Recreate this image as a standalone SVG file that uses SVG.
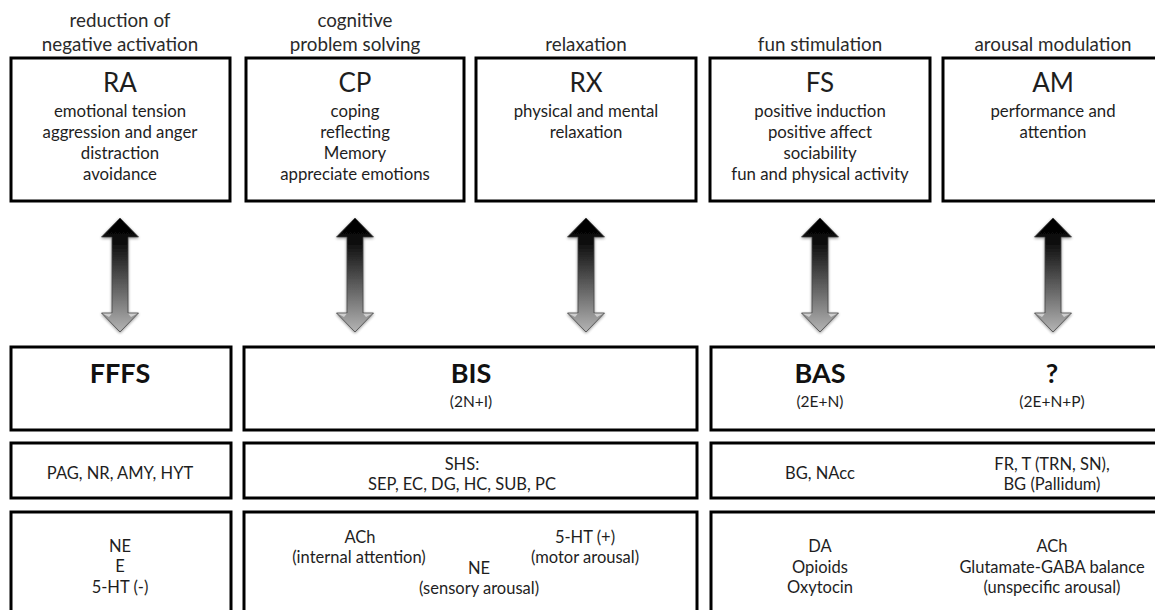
<svg xmlns="http://www.w3.org/2000/svg" width="1155" height="610" viewBox="0 0 1155 610">
<style>
  text { font-family: Lato, "Open Sans", "Liberation Sans", sans-serif; fill: #1e1e1e; text-anchor: middle; }
  .title { font-size: 18.8px; fill: #2a2a2a; }
  .code { font-size: 26px; }
  .body { font-size: 16.8px; }
  .sys { font-size: 27px; font-weight: bold; fill: #111; }
  .sub { font-size: 15.5px; }
  .small { font-size: 16.5px; }
  .box { fill: #fff; stroke: #000; stroke-width: 3; }
  .arrow { fill: url(#ag); stroke: #444; stroke-width: 0.8; filter: url(#sh); }
  .hl { fill: #fff; opacity: 0.55; }
</style>
<defs>
  <linearGradient id="ag" x1="0" y1="0" x2="0" y2="1">
    <stop offset="0" stop-color="#000"/>
    <stop offset="0.2" stop-color="#0a0a0a"/>
    <stop offset="1" stop-color="#b4b4b4"/>
  </linearGradient>
  <filter id="sh" x="-50%" y="-20%" width="200%" height="140%">
    <feGaussianBlur in="SourceAlpha" stdDeviation="1.5"/>
    <feOffset dx="0" dy="1" result="b"/>
    <feComponentTransfer><feFuncA type="linear" slope="0.45"/></feComponentTransfer>
    <feMerge><feMergeNode/><feMergeNode in="SourceGraphic"/></feMerge>
  </filter>
</defs>
<rect width="1155" height="610" fill="#fff"/>

<!-- top row -->
<g id="RA">
  <text class="title" x="120" y="27">reduction of</text>
  <text class="title" x="120" y="51">negative activation</text>
  <rect class="box" x="11" y="58" width="219" height="143"/>
  <text class="code" x="120" y="92">RA</text>
  <text class="body" x="120" y="117">emotional tension</text>
  <text class="body" x="120" y="138">aggression and anger</text>
  <text class="body" x="120" y="159">distraction</text>
  <text class="body" x="120" y="180">avoidance</text>
</g>
<g id="CP">
  <text class="title" x="355" y="27">cognitive</text>
  <text class="title" x="355" y="51">problem solving</text>
  <rect class="box" x="246" y="58" width="218" height="143"/>
  <text class="code" x="355" y="92">CP</text>
  <text class="body" x="355" y="117">coping</text>
  <text class="body" x="355" y="138">reflecting</text>
  <text class="body" x="355" y="159">Memory</text>
  <text class="body" x="355" y="180">appreciate emotions</text>
</g>
<g id="RX">
  <text class="title" x="586" y="51">relaxation</text>
  <rect class="box" x="476" y="58" width="220" height="143"/>
  <text class="code" x="586" y="92">RX</text>
  <text class="body" x="586" y="117">physical and mental</text>
  <text class="body" x="586" y="138">relaxation</text>
</g>
<g id="FS">
  <text class="title" x="820" y="51">fun stimulation</text>
  <rect class="box" x="710" y="58" width="220" height="143"/>
  <text class="code" x="820" y="92">FS</text>
  <text class="body" x="820" y="117">positive induction</text>
  <text class="body" x="820" y="138">positive affect</text>
  <text class="body" x="820" y="159">sociability</text>
  <text class="body" x="820" y="180">fun and physical activity</text>
</g>
<g id="AM">
  <text class="title" x="1053" y="51">arousal modulation</text>
  <rect class="box" x="943" y="58" width="230" height="143"/>
  <text class="code" x="1053" y="92">AM</text>
  <text class="body" x="1053" y="117">performance and</text>
  <text class="body" x="1053" y="138">attention</text>
</g>

<!-- connectors -->
<g id="connectors">
  <path class="arrow" d="M120,218 L138.5,237 L128,237 L128,313 L138.5,313 L120,332 L101.5,313 L112,313 L112,237 L101.5,237 Z"/>
  <path class="arrow" d="M355,218 L373.5,237 L363,237 L363,313 L373.5,313 L355,332 L336.5,313 L347,313 L347,237 L336.5,237 Z"/>
  <path class="arrow" d="M586,218 L604.5,237 L594,237 L594,313 L604.5,313 L586,332 L567.5,313 L578,313 L578,237 L567.5,237 Z"/>
  <path class="arrow" d="M820,218 L838.5,237 L828,237 L828,313 L838.5,313 L820,332 L801.5,313 L812,313 L812,237 L801.5,237 Z"/>
  <path class="arrow" d="M1053,218 L1071.5,237 L1061,237 L1061,313 L1071.5,313 L1053,332 L1034.5,313 L1045,313 L1045,237 L1034.5,237 Z"/>
  <path class="hl" d="M102.5,313.5 L112,313.5 L109,317 Z M137.5,313.5 L128,313.5 L131,317 Z"/>
  <path class="hl" d="M337.5,313.5 L347,313.5 L344,317 Z M372.5,313.5 L363,313.5 L366,317 Z"/>
  <path class="hl" d="M568.5,313.5 L578,313.5 L575,317 Z M603.5,313.5 L594,313.5 L597,317 Z"/>
  <path class="hl" d="M802.5,313.5 L812,313.5 L809,317 Z M837.5,313.5 L828,313.5 L831,317 Z"/>
  <path class="hl" d="M1035.5,313.5 L1045,313.5 L1042,317 Z M1070.5,313.5 L1061,313.5 L1064,317 Z"/>
</g>

<!-- system row -->
<g id="FFFS">
  <rect class="box" x="11" y="347" width="220" height="83"/>
  <text class="sys" x="120" y="383">FFFS</text>
</g>
<g id="BIS">
  <rect class="box" x="244" y="347" width="453" height="83"/>
  <text class="sys" x="471" y="383">BIS</text>
  <text class="sub" x="471" y="407">(2N+I)</text>
</g>
<g id="BAS">
  <rect class="box" x="711" y="347" width="470" height="83"/>
  <text class="sys" x="820" y="383">BAS</text>
  <text class="sub" x="820" y="407">(2E+N)</text>
  <text class="sys" x="1052" y="383">?</text>
  <text class="sub" x="1052" y="407">(2E+N+P)</text>
</g>

<!-- structures row -->
<g id="FFFS-structures">
  <rect class="box" x="11" y="443" width="220" height="55"/>
  <text class="small" x="120" y="479">PAG, NR, AMY, HYT</text>
</g>
<g id="BIS-structures">
  <rect class="box" x="244" y="443" width="453" height="55"/>
  <text class="small" x="462" y="470">SHS:</text>
  <text class="small" x="462" y="490">SEP, EC, DG, HC, SUB, PC</text>
</g>
<g id="BAS-structures">
  <rect class="box" x="711" y="443" width="470" height="55"/>
  <text class="small" x="820" y="479">BG, NAcc</text>
  <text class="small" x="1052" y="470">FR, T (TRN, SN),</text>
  <text class="small" x="1052" y="490">BG (Pallidum)</text>
</g>

<!-- transmitters row -->
<g id="FFFS-transmitters">
  <rect class="box" x="11" y="512" width="220" height="120"/>
  <text class="small" x="120" y="552">NE</text>
  <text class="small" x="120" y="572">E</text>
  <text class="small" x="120" y="593">5-HT (-)</text>
</g>
<g id="BIS-transmitters">
  <rect class="box" x="244" y="512" width="453" height="120"/>
  <text class="small" x="360" y="543">ACh</text>
  <text class="small" x="359" y="563">(internal attention)</text>
  <text class="small" x="479" y="574">NE</text>
  <text class="small" x="479" y="594">(sensory arousal)</text>
  <text class="small" x="585" y="543">5-HT (+)</text>
  <text class="small" x="585" y="563">(motor arousal)</text>
</g>
<g id="BAS-transmitters">
  <rect class="box" x="711" y="512" width="470" height="120"/>
  <text class="small" x="820" y="552">DA</text>
  <text class="small" x="820" y="573">Opioids</text>
  <text class="small" x="820" y="593">Oxytocin</text>
  <text class="small" x="1052" y="552">ACh</text>
  <text class="small" x="1052" y="573">Glutamate-GABA balance</text>
  <text class="small" x="1052" y="593">(unspecific arousal)</text>
</g>
</svg>
